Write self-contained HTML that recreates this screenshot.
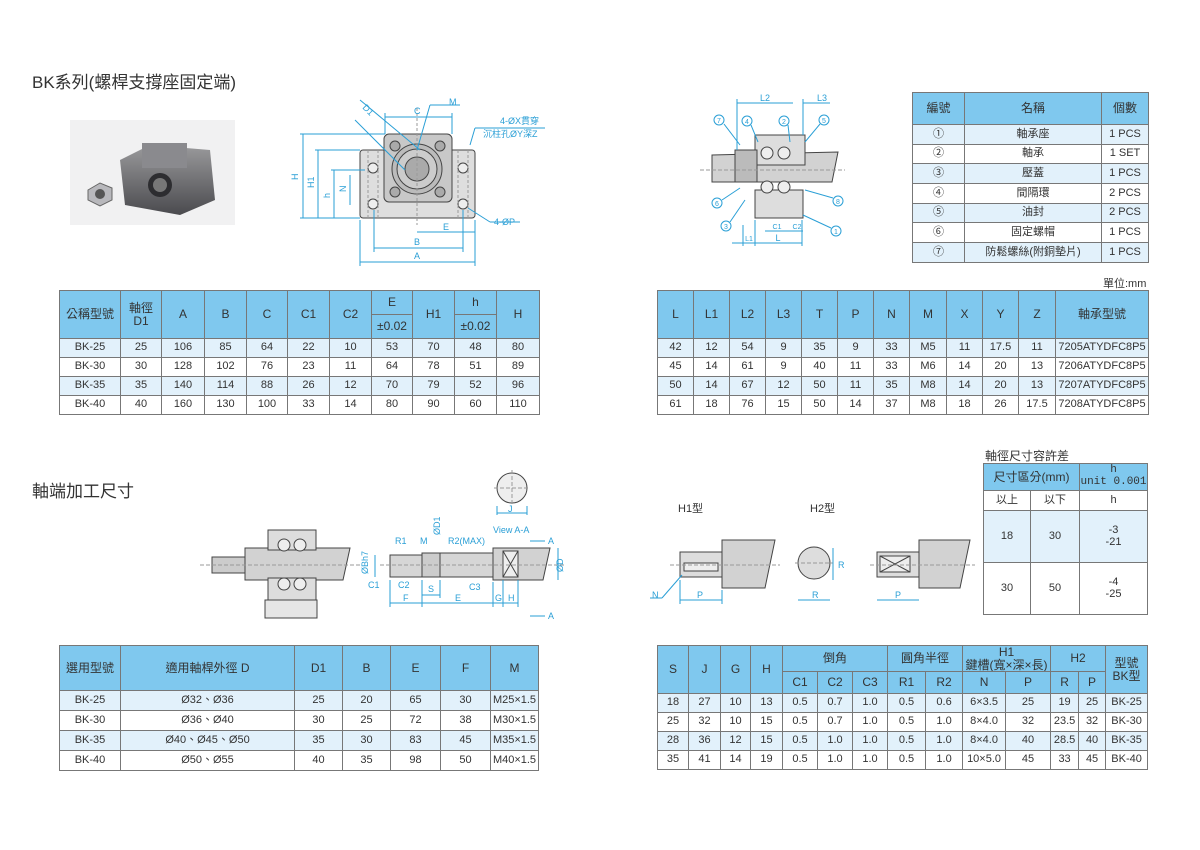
<!DOCTYPE html>
<html><head><meta charset="utf-8"><style>
body{margin:0;background:#fff;width:1200px;height:850px;position:relative;overflow:hidden;font-family:"Liberation Sans","Noto Sans CJK TC",sans-serif;color:#333}
.t{position:absolute;border-collapse:collapse;table-layout:fixed;font-size:11px;text-align:center}
.t td{border:1px solid #777;padding:0;line-height:1.05;overflow:hidden;white-space:nowrap}
.h td{background:#7fc8ee;color:#333;font-size:12px}
tr.b td{background:#e2f1fb}
.title{position:absolute;font-size:17px;color:#333}
svg{position:absolute;left:0;top:0}
</style></head><body>
<div class="title" style="left:32px;top:68px">BK系列(螺桿支撐座固定端)</div>
<div class="title" style="left:32px;top:477px">軸端加工尺寸</div>
<div style="position:absolute;left:1103px;top:275px;font-size:11px">單位:mm</div>
<div style="position:absolute;left:985px;top:447px;font-size:12px">軸徑尺寸容許差</div>

<svg width="1200" height="850" viewBox="0 0 1200 850" fill="none" stroke-width="1">
<defs><linearGradient id="g" x1="0" y1="0" x2="0" y2="1"><stop offset="0" stop-color="#9a9a9c"/><stop offset="1" stop-color="#4a4a4e"/></linearGradient></defs>
<!-- photo -->
<rect x="70" y="120" width="165" height="105" fill="#f1f1f2"/>
<polygon points="120,160 150,145 210,150 215,200 180,215 125,205" fill="url(#g)"/>
<rect x="142" y="143" width="45" height="25" fill="#8a8a8e"/>
<circle cx="160" cy="185" r="12" fill="#2d2d30"/><circle cx="160" cy="185" r="7" fill="#777"/>
<polygon points="88,190 100,183 112,188 112,200 100,206 88,200" fill="#b8b8bc" stroke="#666"/>
<circle cx="100" cy="194" r="5" fill="#555"/>
<!-- front view -->
<g stroke="#444">
<rect x="360" y="150" width="115" height="68" rx="3" fill="#dedede"/>
<rect x="384" y="134" width="68" height="68" rx="5" fill="#c8c8c8"/>
<circle cx="417" cy="169" r="25" fill="#bbb"/><circle cx="417" cy="169" r="20" fill="#ccc"/><circle cx="417" cy="169" r="12" fill="#aaa"/>
<circle cx="395" cy="146" r="5" fill="#aaa"/><circle cx="440" cy="146" r="5" fill="#aaa"/><circle cx="395" cy="192" r="5" fill="#aaa"/><circle cx="440" cy="192" r="5" fill="#aaa"/>
<circle cx="373" cy="168" r="5" fill="#eee"/><circle cx="463" cy="168" r="5" fill="#eee"/><circle cx="373" cy="204" r="5" fill="#eee"/><circle cx="463" cy="204" r="5" fill="#eee"/>
</g>
<g stroke="#999" stroke-dasharray="3,2"><line x1="417" y1="108" x2="417" y2="225"/><line x1="368" y1="150" x2="368" y2="218"/><line x1="378" y1="150" x2="378" y2="218"/><line x1="458" y1="150" x2="458" y2="218"/><line x1="468" y1="150" x2="468" y2="218"/></g>
<g stroke="#2a9fd6">
<line x1="360" y1="262" x2="475" y2="262"/><line x1="360" y1="220" x2="360" y2="266"/><line x1="475" y1="220" x2="475" y2="266"/>
<line x1="374" y1="248" x2="463" y2="248"/><line x1="374" y1="210" x2="374" y2="252"/><line x1="463" y1="210" x2="463" y2="252"/>
<line x1="417" y1="232" x2="475" y2="232"/>
<line x1="385" y1="117" x2="452" y2="117"/><line x1="385" y1="113" x2="385" y2="134"/><line x1="452" y1="113" x2="452" y2="134"/>
<line x1="303" y1="134" x2="303" y2="218"/><line x1="300" y1="134" x2="385" y2="134"/><line x1="300" y1="218" x2="360" y2="218"/>
<line x1="318" y1="150" x2="318" y2="218"/><line x1="315" y1="150" x2="360" y2="150"/>
<line x1="334" y1="170" x2="334" y2="218"/><line x1="331" y1="170" x2="365" y2="170"/>
<line x1="350" y1="175" x2="350" y2="205"/>
<line x1="355" y1="120" x2="405" y2="170"/><line x1="360" y1="100" x2="420" y2="150"/>
<line x1="430" y1="105" x2="417" y2="150"/><line x1="430" y1="105" x2="460" y2="105"/>
<line x1="470" y1="145" x2="475" y2="128"/><line x1="475" y1="128" x2="545" y2="128"/>
<line x1="468" y1="208" x2="490" y2="222"/><line x1="490" y1="222" x2="520" y2="222"/>
</g>
<g fill="#2a9fd6" font-size="9" stroke="none">
<text x="414" y="259">A</text><text x="414" y="245">B</text><text x="443" y="230">E</text><text x="414" y="114">C</text><text x="449" y="105">M</text>
<text x="298" y="180" transform="rotate(-90 298 180)">H</text><text x="314" y="188" transform="rotate(-90 314 188)">H1</text>
<text x="330" y="198" transform="rotate(-90 330 198)">h</text><text x="346" y="192" transform="rotate(-90 346 192)">N</text>
<text x="362" y="108" transform="rotate(45 362 108)">D1</text>
<text x="500" y="124">4-ØX貫穿</text><text x="483" y="137">沉柱孔ØY深Z</text><text x="494" y="225">4-ØP</text>
</g>
<!-- side view -->
<g stroke="#444">
<polygon points="712,155 838,152 832,182 712,182" fill="#d2d2d2"/>
<rect x="755" y="135" width="50" height="30" fill="#ddd"/>
<rect x="755" y="190" width="48" height="28" fill="#ddd"/>
<rect x="735" y="150" width="22" height="32" fill="#bbb"/>
<circle cx="767" cy="153" r="6" fill="#eee"/><circle cx="784" cy="153" r="6" fill="#eee"/>
<circle cx="767" cy="187" r="6" fill="#eee"/><circle cx="784" cy="187" r="6" fill="#eee"/>
</g>
<line x1="700" y1="170" x2="845" y2="170" stroke="#999" stroke-dasharray="4,2"/>
<g stroke="#2a9fd6">
<line x1="737" y1="103" x2="793" y2="103"/><line x1="803" y1="103" x2="830" y2="103"/><line x1="737" y1="99" x2="737" y2="150"/><line x1="803" y1="99" x2="803" y2="135"/>
<line x1="755" y1="243" x2="802" y2="243"/><line x1="732" y1="243" x2="755" y2="243"/><line x1="743" y1="225" x2="743" y2="246"/><line x1="755" y1="220" x2="755" y2="246"/><line x1="802" y1="220" x2="802" y2="246"/>
<line x1="765" y1="231" x2="803" y2="231"/>
<line x1="724" y1="124" x2="740" y2="145"/><line x1="751" y1="125" x2="758" y2="142"/><line x1="788" y1="125" x2="790" y2="142"/><line x1="820" y1="124" x2="805" y2="142"/>
<line x1="722" y1="200" x2="740" y2="188"/><line x1="833" y1="198" x2="805" y2="190"/><line x1="730" y1="222" x2="745" y2="200"/><line x1="831" y1="228" x2="803" y2="215"/>
</g>
<g fill="none" stroke="#2a9fd6"><circle cx="719" cy="120" r="5"/><circle cx="747" cy="121" r="5"/><circle cx="784" cy="121" r="5"/><circle cx="824" cy="120" r="5"/><circle cx="717" cy="203" r="5"/><circle cx="838" cy="201" r="5"/><circle cx="726" cy="226" r="5"/><circle cx="836" cy="231" r="5"/></g>
<g fill="#2a9fd6" font-size="7" stroke="none" text-anchor="middle">
<text x="719" y="123">7</text><text x="747" y="124">4</text><text x="784" y="124">2</text><text x="824" y="123">5</text><text x="717" y="206">6</text><text x="838" y="204">8</text><text x="726" y="229">3</text><text x="836" y="234">1</text>
<text x="765" y="101" font-size="9">L2</text><text x="822" y="101" font-size="9">L3</text><text x="778" y="241" font-size="9">L</text><text x="749" y="241">L1</text><text x="777" y="229">C1</text><text x="797" y="229">C2</text>
</g>
<!-- bottom left assembly -->
<g stroke="#444">
<rect x="212" y="557" width="45" height="16" fill="#ccc"/>
<polygon points="245,548 350,548 343,580 245,580" fill="#d2d2d2"/>
<rect x="268" y="530" width="48" height="20" fill="#ddd"/><rect x="268" y="578" width="48" height="22" fill="#ddd"/>
<rect x="265" y="600" width="52" height="18" fill="#e6e6e6"/>
<circle cx="284" cy="545" r="6" fill="#eee"/><circle cx="300" cy="545" r="6" fill="#eee"/><circle cx="284" cy="584" r="6" fill="#eee"/><circle cx="300" cy="584" r="6" fill="#eee"/>
<!-- right shaft -->
<rect x="390" y="555" width="32" height="22" fill="#d6d6d6"/>
<rect x="422" y="553" width="18" height="24" fill="#ccc"/>
<rect x="440" y="553" width="53" height="24" fill="#d6d6d6"/>
<polygon points="493,548 550,548 543,580 493,580" fill="#d2d2d2"/>
<rect x="503" y="551" width="15" height="26" fill="#eee"/><line x1="503" y1="551" x2="518" y2="577"/><line x1="518" y1="551" x2="503" y2="577"/>
<circle cx="512" cy="488" r="15" fill="#eee"/>
<!-- H1/H2 -->
<rect x="680" y="552" width="42" height="25" fill="#ddd"/>
<polygon points="722,540 775,540 765,588 722,588" fill="#d2d2d2"/>
<rect x="684" y="563" width="34" height="8" fill="#eee"/>
<circle cx="814" cy="563" r="16" fill="#ddd"/>
<rect x="877" y="552" width="42" height="25" fill="#ddd"/>
<polygon points="919,540 970,540 960,588 919,588" fill="#d2d2d2"/>
<rect x="880" y="556" width="30" height="16" fill="#eee"/><line x1="880" y1="556" x2="910" y2="572"/><line x1="910" y1="556" x2="880" y2="572"/>
</g>
<g stroke="#999" stroke-dasharray="4,2"><line x1="200" y1="565" x2="360" y2="565"/><line x1="380" y1="565" x2="565" y2="565"/><line x1="512" y1="470" x2="512" y2="506"/><line x1="494" y1="488" x2="530" y2="488"/><line x1="670" y1="565" x2="780" y2="565"/><line x1="795" y1="563" x2="833" y2="563"/><line x1="870" y1="565" x2="975" y2="565"/></g>
<g stroke="#2a9fd6">
<line x1="390" y1="603" x2="493" y2="603"/><line x1="493" y1="603" x2="518" y2="603"/><line x1="390" y1="580" x2="390" y2="607"/><line x1="422" y1="580" x2="422" y2="607"/><line x1="493" y1="582" x2="493" y2="607"/><line x1="503" y1="580" x2="503" y2="607"/><line x1="518" y1="580" x2="518" y2="607"/>
<line x1="422" y1="595" x2="440" y2="595"/><line x1="440" y1="580" x2="440" y2="598"/>
<line x1="375" y1="555" x2="375" y2="577"/><line x1="558" y1="548" x2="558" y2="580"/>
<line x1="497" y1="506" x2="497" y2="515"/><line x1="527" y1="506" x2="527" y2="515"/><line x1="497" y1="513" x2="527" y2="513"/>
<line x1="530" y1="541" x2="545" y2="541"/><line x1="530" y1="616" x2="545" y2="616"/>
<line x1="680" y1="600" x2="722" y2="600"/><line x1="680" y1="580" x2="680" y2="604"/><line x1="722" y1="590" x2="722" y2="604"/>
<line x1="798" y1="600" x2="830" y2="600"/><line x1="877" y1="600" x2="919" y2="600"/><line x1="833" y1="548" x2="833" y2="580"/>
<line x1="650" y1="598" x2="662" y2="598"/><line x1="662" y1="598" x2="682" y2="575"/>
</g>
<g fill="#2a9fd6" font-size="9" stroke="none">
<text x="508" y="512">J</text><text x="493" y="533">View A-A</text><text x="548" y="544">A</text><text x="548" y="619">A</text>
<text x="395" y="544">R1</text><text x="420" y="544">M</text><text x="448" y="544">R2(MAX)</text><text x="440" y="535" transform="rotate(-90 440 535)">ØD1</text>
<text x="368" y="574" transform="rotate(-90 368 574)">ØBh7</text><text x="563" y="572" transform="rotate(-90 563 572)">ØD</text>
<text x="368" y="588">C1</text><text x="398" y="588">C2</text><text x="469" y="590">C3</text><text x="428" y="592">S</text>
<text x="403" y="601">F</text><text x="455" y="601">E</text><text x="495" y="601">G</text><text x="508" y="601">H</text>
<text x="697" y="598">P</text><text x="812" y="598">R</text><text x="895" y="598">P</text><text x="652" y="598">N</text><text x="838" y="568">R</text>
</g>
<g fill="#333" font-size="11" stroke="none"><text x="678" y="512">H1型</text><text x="810" y="512">H2型</text></g>
</svg>

<table class="t" style="left:912px;top:92px;width:236px">
<colgroup><col style="width:52px"><col style="width:137px"><col style="width:47px"></colgroup>
<tr class="h" style="height:32px"><td>編號</td><td>名稱</td><td>個數</td></tr>
<tr class="b" style="height:19.7px"><td>①</td><td>軸承座</td><td>1 PCS</td></tr>
<tr style="height:19.7px"><td>②</td><td>軸承</td><td>1 SET</td></tr>
<tr class="b" style="height:19.7px"><td>③</td><td>壓蓋</td><td>1 PCS</td></tr>
<tr style="height:19.7px"><td>④</td><td>間隔環</td><td>2 PCS</td></tr>
<tr class="b" style="height:19.7px"><td>⑤</td><td>油封</td><td>2 PCS</td></tr>
<tr style="height:19.7px"><td>⑥</td><td>固定螺帽</td><td>1 PCS</td></tr>
<tr class="b" style="height:19.7px"><td>⑦</td><td>防鬆螺絲(附銅墊片)</td><td>1 PCS</td></tr>
</table>

<table class="t" style="left:59px;top:290px;width:480px">
<colgroup><col style="width:61px"><col style="width:41px"><col style="width:43px"><col style="width:42px"><col style="width:41px"><col style="width:42px"><col style="width:42px"><col style="width:41px"><col style="width:42px"><col style="width:42px"><col style="width:43px"></colgroup>
<tr class="h" style="height:24px"><td rowspan="2">公稱型號</td><td rowspan="2">軸徑<br>D1</td><td rowspan="2">A</td><td rowspan="2">B</td><td rowspan="2">C</td><td rowspan="2">C1</td><td rowspan="2">C2</td><td>E</td><td rowspan="2">H1</td><td>h</td><td rowspan="2">H</td></tr>
<tr class="h" style="height:24px"><td>±0.02</td><td>±0.02</td></tr>
<tr class="b" style="height:19px"><td>BK-25</td><td>25</td><td>106</td><td>85</td><td>64</td><td>22</td><td>10</td><td>53</td><td>70</td><td>48</td><td>80</td></tr>
<tr style="height:19px"><td>BK-30</td><td>30</td><td>128</td><td>102</td><td>76</td><td>23</td><td>11</td><td>64</td><td>78</td><td>51</td><td>89</td></tr>
<tr class="b" style="height:19px"><td>BK-35</td><td>35</td><td>140</td><td>114</td><td>88</td><td>26</td><td>12</td><td>70</td><td>79</td><td>52</td><td>96</td></tr>
<tr style="height:19px"><td>BK-40</td><td>40</td><td>160</td><td>130</td><td>100</td><td>33</td><td>14</td><td>80</td><td>90</td><td>60</td><td>110</td></tr>
</table>

<table class="t" style="left:657px;top:290px;width:491px">
<colgroup><col style="width:36px"><col style="width:36px"><col style="width:36px"><col style="width:36px"><col style="width:36px"><col style="width:36px"><col style="width:36px"><col style="width:37px"><col style="width:36px"><col style="width:36px"><col style="width:37px"><col style="width:93px"></colgroup>
<tr class="h" style="height:48px"><td>L</td><td>L1</td><td>L2</td><td>L3</td><td>T</td><td>P</td><td>N</td><td>M</td><td>X</td><td>Y</td><td>Z</td><td>軸承型號</td></tr>
<tr class="b" style="height:19px"><td>42</td><td>12</td><td>54</td><td>9</td><td>35</td><td>9</td><td>33</td><td>M5</td><td>11</td><td>17.5</td><td>11</td><td>7205ATYDFC8P5</td></tr>
<tr style="height:19px"><td>45</td><td>14</td><td>61</td><td>9</td><td>40</td><td>11</td><td>33</td><td>M6</td><td>14</td><td>20</td><td>13</td><td>7206ATYDFC8P5</td></tr>
<tr class="b" style="height:19px"><td>50</td><td>14</td><td>67</td><td>12</td><td>50</td><td>11</td><td>35</td><td>M8</td><td>14</td><td>20</td><td>13</td><td>7207ATYDFC8P5</td></tr>
<tr style="height:19px"><td>61</td><td>18</td><td>76</td><td>15</td><td>50</td><td>14</td><td>37</td><td>M8</td><td>18</td><td>26</td><td>17.5</td><td>7208ATYDFC8P5</td></tr>
</table>

<table class="t" style="left:983px;top:463px;width:164px">
<colgroup><col style="width:47px"><col style="width:49px"><col style="width:68px"></colgroup>
<tr class="h" style="height:27px"><td colspan="2">尺寸區分(mm)</td><td style="font-family:'Liberation Mono',monospace;font-size:11px">h<br>unit 0.001</td></tr>
<tr style="height:20px"><td>以上</td><td>以下</td><td>h</td></tr>
<tr class="b" style="height:52px"><td>18</td><td>30</td><td>-3<br>-21</td></tr>
<tr style="height:52px"><td>30</td><td>50</td><td>-4<br>-25</td></tr>
</table>

<table class="t" style="left:59px;top:645px;width:479px">
<colgroup><col style="width:61px"><col style="width:174px"><col style="width:48px"><col style="width:48px"><col style="width:50px"><col style="width:50px"><col style="width:48px"></colgroup>
<tr class="h" style="height:45px"><td>選用型號</td><td>適用軸桿外徑 D</td><td>D1</td><td>B</td><td>E</td><td>F</td><td>M</td></tr>
<tr class="b" style="height:20px"><td>BK-25</td><td>Ø32、Ø36</td><td>25</td><td>20</td><td>65</td><td>30</td><td>M25×1.5</td></tr>
<tr style="height:20px"><td>BK-30</td><td>Ø36、Ø40</td><td>30</td><td>25</td><td>72</td><td>38</td><td>M30×1.5</td></tr>
<tr class="b" style="height:20px"><td>BK-35</td><td>Ø40、Ø45、Ø50</td><td>35</td><td>30</td><td>83</td><td>45</td><td>M35×1.5</td></tr>
<tr style="height:20px"><td>BK-40</td><td>Ø50、Ø55</td><td>40</td><td>35</td><td>98</td><td>50</td><td>M40×1.5</td></tr>
</table>

<table class="t" style="left:657px;top:645px;width:490px">
<colgroup><col style="width:31px"><col style="width:32px"><col style="width:30px"><col style="width:32px"><col style="width:35px"><col style="width:35px"><col style="width:35px"><col style="width:38px"><col style="width:37px"><col style="width:43px"><col style="width:45px"><col style="width:28px"><col style="width:27px"><col style="width:42px"></colgroup>
<tr class="h" style="height:23px"><td rowspan="2">S</td><td rowspan="2">J</td><td rowspan="2">G</td><td rowspan="2">H</td><td colspan="3">倒角</td><td colspan="2">圓角半徑</td><td colspan="2">H1<br>鍵槽(寬×深×長)</td><td colspan="2">H2</td><td rowspan="2">型號<br>BK型</td></tr>
<tr class="h" style="height:22px"><td>C1</td><td>C2</td><td>C3</td><td>R1</td><td>R2</td><td>N</td><td>P</td><td>R</td><td>P</td></tr>
<tr class="b" style="height:19px"><td>18</td><td>27</td><td>10</td><td>13</td><td>0.5</td><td>0.7</td><td>1.0</td><td>0.5</td><td>0.6</td><td>6×3.5</td><td>25</td><td>19</td><td>25</td><td>BK-25</td></tr>
<tr style="height:19px"><td>25</td><td>32</td><td>10</td><td>15</td><td>0.5</td><td>0.7</td><td>1.0</td><td>0.5</td><td>1.0</td><td>8×4.0</td><td>32</td><td>23.5</td><td>32</td><td>BK-30</td></tr>
<tr class="b" style="height:19px"><td>28</td><td>36</td><td>12</td><td>15</td><td>0.5</td><td>1.0</td><td>1.0</td><td>0.5</td><td>1.0</td><td>8×4.0</td><td>40</td><td>28.5</td><td>40</td><td>BK-35</td></tr>
<tr style="height:19px"><td>35</td><td>41</td><td>14</td><td>19</td><td>0.5</td><td>1.0</td><td>1.0</td><td>0.5</td><td>1.0</td><td>10×5.0</td><td>45</td><td>33</td><td>45</td><td>BK-40</td></tr>
</table>
</body></html>
